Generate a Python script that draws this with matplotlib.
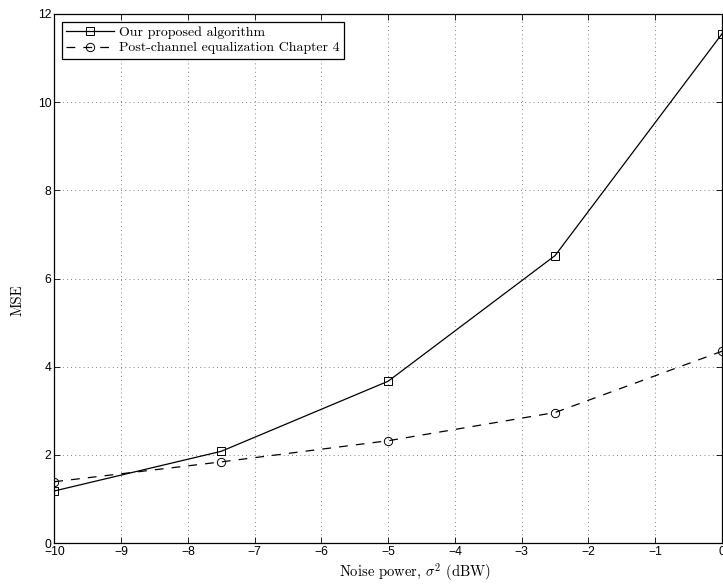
import matplotlib
matplotlib.use("Agg")
import matplotlib.pyplot as plt

noise_power = [-10, -7.5, -5, -2.5, 0]
mse_proposed = [1.18, 2.08, 3.67, 6.52, 11.55]
mse_postchannel = [1.39, 1.84, 2.32, 2.96, 4.35]
labels = ["Our proposed algorithm", "Post-channel equalization Chapter 4"]
xticks = list(range(-10, 1))
yticks = list(range(0, 13, 2))

plt.rcParams['mathtext.fontset'] = 'cm'

fig = plt.figure(figsize=(7.23, 5.84), dpi=100)
ax = fig.add_axes([54.3/723, 41/584, (722-54.3)/723, 529/584])

ax.plot(noise_power, mse_proposed, color='black', lw=0.9, marker='s',
        markersize=5.2, markerfacecolor='none', markeredgecolor='black',
        markeredgewidth=0.7, label=labels[0])
ax.plot(noise_power, mse_postchannel, color='black', lw=0.9, marker='o',
        markersize=6, markerfacecolor='none', markeredgecolor='black',
        markeredgewidth=0.7, dashes=(7, 6.5), label=labels[1])

ax.set_xlim(-10, 0)
ax.set_ylim(0, 12)
ax.set_xticks(xticks)
ax.set_yticks(yticks)
ax.set_xticklabels([("\u2212%d" % -t) if t < 0 else "%d" % t for t in xticks],
                   family='Liberation Sans', fontsize=8.7)
ax.set_yticklabels(["%d" % t for t in yticks], family='Liberation Sans', fontsize=8.7)
ax.tick_params(direction='in', top=True, right=True, length=4, width=0.6, pad=2)
ax.grid(True, color='0.35', linestyle=(0, (1, 4)), lw=0.6)
for s in ax.spines.values():
    s.set_linewidth(0.9)

leg = ax.legend(loc='upper left', bbox_to_anchor=(8/668, 1-8/529),
                prop={'family': 'cmr10', 'size': 10}, frameon=True,
                fancybox=False, edgecolor='black', framealpha=1,
                handlelength=3.4, handletextpad=0.4, borderaxespad=0,
                borderpad=0.3, labelspacing=0.2)
leg.get_frame().set_linewidth(0.9)

fig.text(415/723, 1-572/584, r"Noise power, $\sigma^2$ (dBW)", family='cmr10',
         fontsize=10.5, ha='center', va='center')
fig.text(18/723, 1-300/584, "MSE", family='cmr10', fontsize=10.5,
         rotation=90, ha='center', va='center')

fig.savefig("out.png", dpi=100)
